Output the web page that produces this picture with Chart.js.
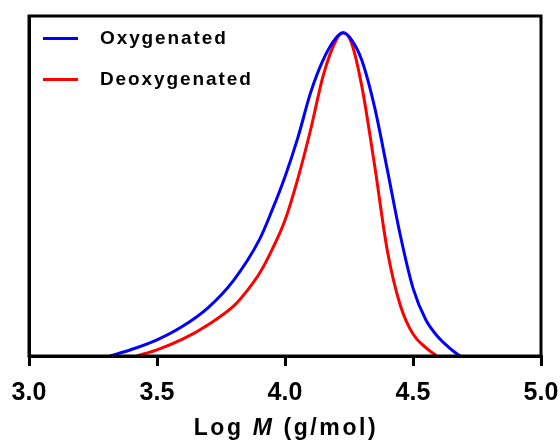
<!DOCTYPE html>
<html>
<head>
<meta charset="utf-8">
<script src="https://cdn.jsdelivr.net/npm/chart.js@4"></script>
<style>
    body { margin: 0; background: #fff; }
    #wrap { position: relative; width: 560px; height: 444px; }
    .legend-row { position: absolute; left: 43px; height: 20px; font: bold 19px "Liberation Sans", Arial, sans-serif; letter-spacing: 1.9px; color: #000; }
    .legend-row span.swatch { position: absolute; left: 0; top: 8px; width: 35px; height: 3px; }
    .legend-row span.label { position: absolute; left: 57px; top: -2px; white-space: nowrap; }
    #xtitle { position: absolute; left: 0; width: 572px; top: 414px; text-align: center; font: bold 23px "Liberation Sans", Arial, sans-serif; letter-spacing: 2.6px; color: #000; }
</style>
</head>
<body>
<div id="wrap">
    <canvas id="gpc" width="560" height="444"></canvas>
    <div class="legend-row" style="top:29px"><span class="swatch" style="background:#0000ff"></span><span class="label">Oxygenated</span></div>
    <div class="legend-row" style="top:70px"><span class="swatch" style="background:#ff0000"></span><span class="label">Deoxygenated</span></div>
    <div id="xtitle">Log <i>M</i> (g/mol)</div>
</div>
<script>
// values (normalised to peak = 1)
const seriesNames = ['Oxygenated', 'Deoxygenated'];
const oxyLogM = [3.316, 3.40, 3.50, 3.60, 3.70, 3.80, 3.90, 3.95, 4.00, 4.05, 4.10, 4.15, 4.20, 4.228,
    4.26, 4.30, 4.35, 4.40, 4.45, 4.50, 4.55, 4.60, 4.65, 4.684];
const oxySignal = [0, 0.020, 0.050, 0.092, 0.150, 0.235, 0.360, 0.452, 0.555, 0.675, 0.815, 0.918, 0.985, 1.0,
    0.978, 0.915, 0.770, 0.575, 0.375, 0.210, 0.112, 0.057, 0.020, 0];
const deoxyLogM = [3.42, 3.50, 3.60, 3.70, 3.80, 3.85, 3.90, 3.95, 4.00, 4.05, 4.10, 4.15, 4.20, 4.228,
    4.26, 4.30, 4.35, 4.40, 4.45, 4.50, 4.55, 4.592];
const deoxySignal = [0, 0.019, 0.052, 0.097, 0.155, 0.200, 0.255, 0.330, 0.420, 0.548, 0.700, 0.870, 0.978, 1.0,
    0.968, 0.835, 0.590, 0.325, 0.158, 0.068, 0.026, 0];
const xTicks = [3.0, 3.5, 4.0, 4.5, 5.0];

function toPoints(xs, ys) {
    let pts = [];
    for (let i = 0; i < xs.length; i++) {
        pts.push({ x: xs[i], y: ys[i] });
    }
    return pts;
}

// closes the frame on top and right
const frame = {
    id: 'frame',
    afterDraw(chart) {
        const a = chart.chartArea;
        const ctx = chart.ctx;
        ctx.save();
        ctx.strokeStyle = '#000';
        ctx.lineWidth = 3;
        ctx.strokeRect(a.left, a.top, a.right - a.left, a.bottom - a.top);
        ctx.restore();
    }
};

const ctx = document.getElementById('gpc').getContext('2d');
const chart = new Chart(ctx, {
    type: 'line',
    data: {
        datasets: [{
            label: seriesNames[0],
            data: toPoints(oxyLogM, oxySignal),
            borderColor: '#0000ff',
            borderWidth: 3,
            pointRadius: 0,
            cubicInterpolationMode: 'monotone'
        }, {
            label: seriesNames[1],
            data: toPoints(deoxyLogM, deoxySignal),
            borderColor: '#ff0000',
            borderWidth: 3,
            pointRadius: 0,
            cubicInterpolationMode: 'monotone'
        }]
    },
    options: {
        responsive: false,
        animation: false,
        layout: { padding: { left: 29, right: 19, top: 16, bottom: 24 } },
        plugins: { legend: { display: false }, tooltip: { enabled: false } },
        scales: {
            x: {
                type: 'linear',
                min: 3.0,
                max: 5.0,
                afterBuildTicks: (axis) => { axis.ticks = xTicks.map(v => ({ value: v })); },
                afterFit: (axis) => { axis.paddingLeft = 0; axis.paddingRight = 0; },
                ticks: {
                    color: '#000',
                    padding: 12,
                    font: { family: '"Liberation Sans", Arial, sans-serif', size: 25, weight: 'bold' },
                    callback: (v) => v.toFixed(1)
                },
                grid: { drawOnChartArea: false, drawTicks: true, tickLength: 10, color: '#000', lineWidth: 3 },
                border: { color: '#000', width: 3 }
            },
            y: {
                min: 0,
                max: 1.052,
                afterFit: (axis) => { axis.width = 0; },
                ticks: { display: false },
                grid: { display: false },
                border: { color: '#000', width: 3 }
            }
        }
    },
    plugins: [frame]
});
</script>
</body>
</html>
